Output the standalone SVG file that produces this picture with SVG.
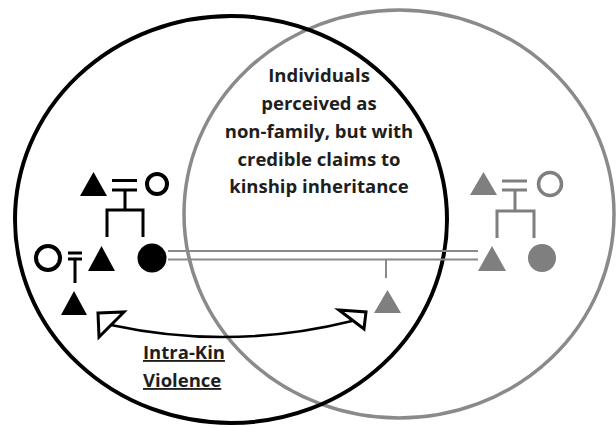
<svg xmlns="http://www.w3.org/2000/svg" width="616" height="428" viewBox="0 0 616 428">
<style>
.ring-k{fill:none;stroke:#000;stroke-width:4}
.ring-g{fill:none;stroke:#8a8a8a;stroke-width:3.5}
.k{fill:#000}
.g{fill:#7f7f7f}
.ko{fill:#fff;stroke:#000;stroke-width:4}
.go{fill:#fff;stroke:#7f7f7f;stroke-width:3.5}
.lk{stroke:#000;stroke-width:3;fill:none}
.lg{stroke:#7f7f7f;stroke-width:3;fill:none}
.lg2{stroke:#8a8a8a;stroke-width:2;fill:none}
.arr{fill:none;stroke:#000;stroke-width:2.5}
.head{fill:#fff;stroke:#000;stroke-width:3;stroke-linejoin:miter}
.t{font-family:"Open Sans","Liberation Sans",sans-serif;font-weight:bold;font-size:18.5px;fill:#1e1e1e}
</style>
<rect width="616" height="428" fill="#fff"/>
<g id="sets">
<ellipse class="ring-g" cx="399" cy="214" rx="215" ry="204"/>
<ellipse class="ring-k" cx="231" cy="219.5" rx="216" ry="203.5"/>
</g>
<g id="connectors">
<line class="lk" x1="112" y1="180.5" x2="137" y2="180.5"/>
<line class="lk" x1="112" y1="190" x2="137" y2="190"/>
<polyline class="lk" points="125,190 125,210"/>
<polyline class="lk" points="107,237 107,210 143,210 143,237"/>
<line class="lk" x1="68" y1="253" x2="82" y2="253"/>
<line class="lk" x1="68" y1="259" x2="82" y2="259"/>
<line class="lk" x1="75" y1="259" x2="75" y2="283"/>
<line class="lg2" x1="168" y1="251" x2="478" y2="251"/>
<line class="lg2" x1="168" y1="259.5" x2="478" y2="259.5"/>
<line class="lg2" x1="386" y1="260" x2="386" y2="278"/>
<line class="lg" x1="502" y1="181" x2="527" y2="181"/>
<line class="lg" x1="502" y1="190" x2="527" y2="190"/>
<polyline class="lg" points="515,190 515,211"/>
<polyline class="lg" points="497,238 497,211 534,211 534,238"/>
<path class="arr" d="M111,325 Q231,351 352,321"/>
<polygon class="head" points="98,313 124,312 99,337"/>
<polygon class="head" points="339,310 366,312 364,329"/>
</g>
<g id="k-grandfather"><polygon class="k" points="93.5,172 107,196 80,196"/></g>
<g id="k-grandmother"><circle class="ko" cx="157" cy="184" r="10"/></g>
<g id="k-wife"><circle class="ko" cx="48" cy="258" r="12"/></g>
<g id="k-son"><polygon class="k" points="101.5,246 115,271 88,271"/></g>
<g id="k-daughter"><circle class="k" cx="152" cy="258" r="14.5"/></g>
<g id="k-grandson"><polygon class="k" points="74,291 87,315 61,315"/></g>
<g id="g-claimant"><polygon class="g" points="387.5,290 401,313 374,313"/></g>
<g id="g-grandfather"><polygon class="g" points="483.5,172 497,195 470,195"/></g>
<g id="g-grandmother"><circle class="go" cx="550" cy="184" r="11.5"/></g>
<g id="g-son"><polygon class="g" points="492,246 506,271 478,271"/></g>
<g id="g-daughter"><circle class="g" cx="542" cy="258" r="14"/></g>
<g id="label-overlap">
<text class="t" x="319" y="82" text-anchor="middle">Individuals</text>
<text class="t" x="319" y="110" text-anchor="middle">perceived as</text>
<text class="t" x="319" y="138" text-anchor="middle">non-family, but with</text>
<text class="t" x="319" y="166" text-anchor="middle">credible claims to</text>
<text class="t" x="319" y="193" text-anchor="middle">kinship inheritance</text>
</g>
<g id="label-violence">
<text class="t" x="143" y="359" text-decoration="underline">Intra-Kin</text>
<text class="t" x="143" y="387" text-decoration="underline">Violence</text>
</g>
</svg>
